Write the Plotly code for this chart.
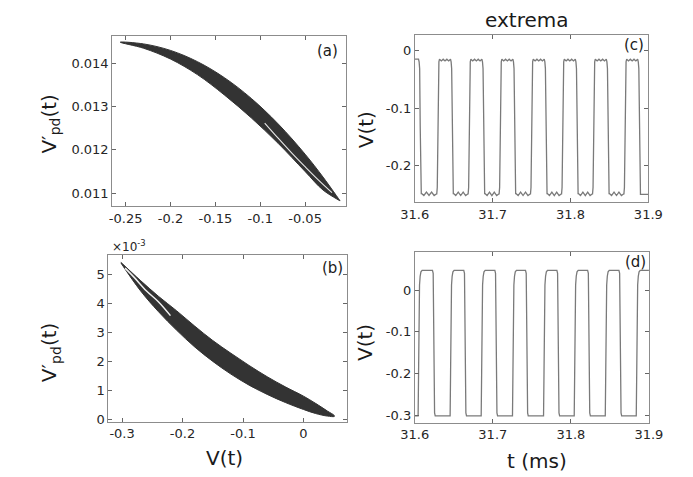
import plotly.graph_objects as go

W, H = 693, 477

# ---------------- data ----------------
# panel (a): band of the phase portrait, upper and lower envelopes
a_x = [-0.256, -0.23, -0.2, -0.17, -0.14, -0.11, -0.08, -0.05, -0.03, -0.011]
a_upper = [0.01449, 0.01445, 0.01430, 0.01404, 0.01367, 0.01319, 0.01260, 0.01190, 0.01137, 0.01082]
a_lower = [0.01449, 0.01435, 0.01410, 0.01374, 0.01327, 0.01274, 0.01215, 0.01150, 0.01107, 0.01082]
# thin gap inside the band (a)
a_gap_x = [-0.095, -0.08, -0.065, -0.05, -0.035, -0.02]
a_gap_y = [0.01262, 0.01227, 0.01193, 0.01161, 0.01130, 0.01101]

# panel (b): values in units of 1e-3
b_x = [-0.302, -0.27, -0.24, -0.21, -0.18, -0.15, -0.12, -0.09, -0.06, -0.03, 0.0, 0.02, 0.04, 0.051]
b_upper = [5.42, 4.80, 4.25, 3.75, 3.22, 2.72, 2.28, 1.86, 1.47, 1.12, 0.80, 0.55, 0.28, 0.13]
b_lower = [5.40, 4.45, 3.72, 3.08, 2.50, 2.00, 1.56, 1.18, 0.86, 0.58, 0.34, 0.20, 0.11, 0.10]
b_gap_x = [-0.295, -0.28, -0.26, -0.24, -0.22]
b_gap_y = [5.22, 4.90, 4.44, 4.06, 3.58]

# panel (c): edge times (ms) and levels
c_rise = [31.6296, 31.6699, 31.7097, 31.7500, 31.7899, 31.8297, 31.8700]
c_fall = [31.6070, 31.6481, 31.6884, 31.7282, 31.7685, 31.8084, 31.8482, 31.8885]
c_high, c_low = -0.015, -0.250
c_high_ripple = [0.0, -0.003, 0.0, -0.003, 0.0, -0.003, 0.0]
c_low_ripple = [0.002, -0.002, 0.004, -0.002, 0.004, -0.002, 0.001]

# panel (d)
d_rise = [31.6049, 31.6459, 31.6857, 31.7258, 31.7656, 31.8049, 31.8447, 31.8844]
d_fall = [31.6242, 31.6643, 31.7041, 31.7434, 31.7836, 31.8230, 31.8631]
d_high, d_low = 0.047, -0.301

# edge shapes (time offset, fraction of swing)
c_rise_dt = [-0.0014, -0.0007, 0.0, 0.0007, 0.0014, 0.0022]
c_rise_f = [0.0, 0.05, 0.5, 0.93, 0.98, 1.0]
c_fall_dt = [-0.0022, -0.0014, -0.0007, 0.0, 0.0007, 0.0014]
c_fall_f = [1.0, 0.98, 0.93, 0.5, 0.05, 0.0]
d_rise_dt = [-0.0006, 0.0, 0.0006, 0.0012, 0.002, 0.003, 0.0045]
d_rise_f = [0.0, 0.3, 0.75, 0.9, 0.96, 0.99, 1.0]
d_fall_dt = [-0.0015, -0.0006, 0.0, 0.0006, 0.0012, 0.002]
d_fall_f = [1.0, 0.98, 0.6, 0.08, 0.02, 0.0]


def waveform(rise, fall, t0, t1, high, low, rdt, rf, fdt, ff, hrip=None, lrip=None):
    ev = sorted([(t, 'r') for t in rise] + [(t, 'f') for t in fall])
    state_high = ev[0][1] == 'f'
    ts, vs = [], []
    prev_end = t0
    first = True
    for t, kind in ev:
        dts, fs = (rdt, rf) if kind == 'r' else (fdt, ff)
        start = t + dts[0]
        lvl = high if state_high else low
        rip = hrip if state_high else lrip
        if first or rip is None:
            ts += [prev_end, start]
            vs += [lvl, lvl]
        else:
            n = len(rip)
            for i, r in enumerate(rip):
                ts.append(prev_end + (start - prev_end) * i / (n - 1))
                vs.append(lvl + r)
        first = False
        for dt, f in zip(dts, fs):
            ts.append(t + dt)
            vs.append(low + f * (high - low))
        prev_end = t + dts[-1]
        state_high = kind == 'r'
    lvl = high if state_high else low
    ts += [prev_end, t1]
    vs += [lvl, lvl]
    return ts, vs


c_t, c_v = waveform(c_rise, c_fall, 31.59, 31.91, c_high, c_low,
                    c_rise_dt, c_rise_f, c_fall_dt, c_fall_f, c_high_ripple, c_low_ripple)
d_t, d_v = waveform(d_rise, d_fall, 31.59, 31.91, d_high, d_low,
                    d_rise_dt, d_rise_f, d_fall_dt, d_fall_f)

BAND = '#333333'
LINE = '#7a7a7a'

fig = go.Figure()
fig.add_trace(go.Scatter(x=a_x + a_x[::-1], y=a_upper + a_lower[::-1], mode='lines',
                         fill='toself', fillcolor=BAND, line=dict(color=BAND, width=1, shape='spline'),
                         xaxis='x', yaxis='y', hoverinfo='skip'))
fig.add_trace(go.Scatter(x=a_gap_x, y=a_gap_y, mode='lines',
                         line=dict(color='#e8e8e8', width=1.1, shape='spline'),
                         xaxis='x', yaxis='y', hoverinfo='skip'))
fig.add_trace(go.Scatter(x=b_x + b_x[::-1], y=b_upper + b_lower[::-1], mode='lines',
                         fill='toself', fillcolor=BAND, line=dict(color=BAND, width=1, shape='spline'),
                         xaxis='x2', yaxis='y2', hoverinfo='skip'))
fig.add_trace(go.Scatter(x=b_gap_x, y=b_gap_y, mode='lines',
                         line=dict(color='#f0f0f0', width=1.5, shape='spline'),
                         xaxis='x2', yaxis='y2', hoverinfo='skip'))
fig.add_trace(go.Scatter(x=c_t, y=c_v, mode='lines', line=dict(color=LINE, width=1.3),
                         xaxis='x3', yaxis='y3', hoverinfo='skip'))
fig.add_trace(go.Scatter(x=d_t, y=d_v, mode='lines', line=dict(color=LINE, width=1.3),
                         xaxis='x4', yaxis='y4', hoverinfo='skip'))

FONT = 'DejaVu Sans'
ax = dict(showline=True, linecolor='#8c8c8c', linewidth=1, mirror='allticks', ticks='inside',
          ticklen=4, tickcolor='#666666', showgrid=False, zeroline=False,
          tickfont=dict(family=FONT, size=13, color='#262626'))


def px(x0, x1):
    return [x0 / W, x1 / W]


def py(y0, y1):
    return [1 - y1 / H, 1 - y0 / H]


fig.update_layout(
    width=W, height=H, margin=dict(l=0, r=0, t=0, b=0),
    paper_bgcolor='white', plot_bgcolor='white', showlegend=False,
    font=dict(family=FONT, size=13, color='#262626'),
    xaxis=dict(ax, domain=px(94, 338), range=[-0.265, -0.004], anchor='y',
               tickvals=[-0.25, -0.2, -0.15, -0.1, -0.05],
               ticktext=['-0.25', '-0.2', '-0.15', '-0.1', '-0.05']),
    yaxis=dict(ax, domain=py(28, 200), range=[0.010703, 0.01464], anchor='x',
               tickvals=[0.011, 0.012, 0.013, 0.014],
               ticktext=['0.011', '0.012', '0.013', '0.014']),
    xaxis2=dict(ax, domain=px(90, 339), range=[-0.3227, 0.0725], anchor='y2',
                tickvals=[-0.3, -0.2, -0.1, 0], ticktext=['-0.3', '-0.2', '-0.1', '0']),
    yaxis2=dict(ax, domain=py(250, 418), range=[-0.08, 5.66], anchor='x2',
                tickvals=[0, 1, 2, 3, 4, 5], ticktext=['0', '1', '2', '3', '4', '5']),
    xaxis3=dict(ax, domain=px(409.3, 652.7), range=[31.6, 31.9], anchor='y3',
                tickvals=[31.6, 31.7, 31.8, 31.9], ticktext=['31.6', '31.7', '31.8', '31.9']),
    yaxis3=dict(ax, domain=py(27.3, 196), range=[-0.2632, 0.027], anchor='x3',
                tickvals=[-0.2, -0.1, 0], ticktext=['-0.2', '-0.1', '0']),
    xaxis4=dict(ax, domain=px(409.3, 653.3), range=[31.6, 31.9], anchor='y4',
                tickvals=[31.6, 31.7, 31.8, 31.9], ticktext=['31.6', '31.7', '31.8', '31.9']),
    yaxis4=dict(ax, domain=py(246.7, 419), range=[-0.317, 0.0907], anchor='x4',
                tickvals=[-0.3, -0.2, -0.1, 0], ticktext=['-0.3', '-0.2', '-0.1', '0']),
)


def ann(text, x, y, size, angle=0, color='#1a1a1a'):
    fig.add_annotation(text=text, x=x / W, y=1 - y / H, xref='paper', yref='paper',
                       showarrow=False, textangle=angle, xanchor='center', yanchor='middle',
                       font=dict(family=FONT, size=size, color=color))


ann('extrema', 526, 12, 20)
ann('V′<sub>pd</sub>(t)', 29, 117, 20, -90)
ann('V′<sub>pd</sub>(t)', 30, 348, 20, -90)
ann('V(t)', 358, 123, 20, -90)
ann('V(t)', 358, 338, 20, -90)
ann('V(t)', 211, 455, 20)
ann('t (ms)', 537, 458, 20)
ann('×10<sup>-3</sup>', 112, 241, 12, color='#262626')
ann('(a)', 318, 43, 15)
ann('(b)', 324, 263, 15)
ann('(c)', 638, 37, 15)
ann('(d)', 639, 257, 15)

fig.write_html('out.html')
